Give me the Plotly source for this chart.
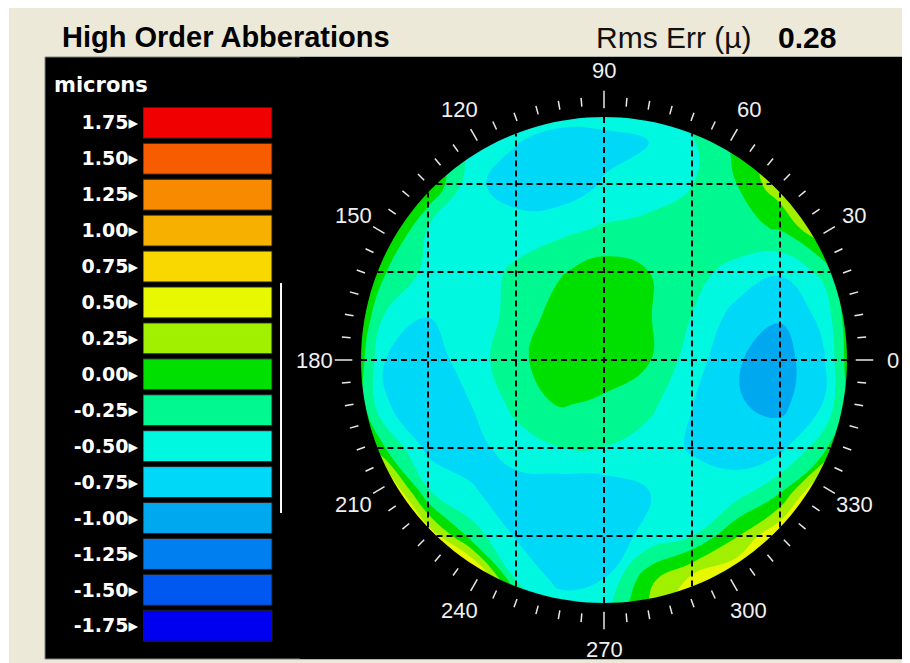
import math
import plotly.graph_objects as go

# ---------------- data ----------------
levels = [1.75, 1.50, 1.25, 1.00, 0.75, 0.50, 0.25, 0.00,
          -0.25, -0.50, -0.75, -1.00, -1.25, -1.50, -1.75]
level_labels = ["1.75", "1.50", "1.25", "1.00", "0.75", "0.50", "0.25", "0.00",
                "-0.25", "-0.50", "-0.75", "-1.00", "-1.25", "-1.50", "-1.75"]
level_colors = ["#F00000", "#F85C00", "#F88A00", "#F8B000", "#F8D800", "#E8F800",
                "#A0F000", "#00E000", "#00F890", "#00F8E0", "#00D8F8", "#00A8F0",
                "#0080F0", "#0058F0", "#0000F0"]
rms_err = "0.28"
data_range = [0.635, -0.965]          # white bar next to the legend (max, min)

# surface sampled on a grid (units: one dashed grid cell = 1)
grid_u = [-3, -2.5, -2, -1.5, -1, -0.5, 0, 0.5, 1, 1.5, 2, 2.5, 3]
grid_v = [3, 2.5, 2, 1.5, 1, 0.5, 0, -0.5, -1, -1.5, -2, -2.5, -3]
z_rows = [
    [0.6, 0.5, 0.2, -0.25, -0.3, -0.32, -0.3, -0.28, -0.15, 0.1, 0.4, 0.6, 0.7],
    [0.5, 0.4, 0.0, -0.4, -0.6, -0.74, -0.72, -0.64, -0.4, -0.05, 0.3, 0.5, 0.6],
    [0.4, 0.3, 0.15, -0.55, -0.78, -0.8, -0.6, -0.52, -0.38, -0.13, 0.3, 0.5, 0.6],
    [0.4, 0.3, -0.38, -0.55, -0.5, -0.45, -0.35, -0.3, -0.25, -0.2, -0.1, 0.4, 0.6],
    [0.5, -0.1, -0.45, -0.5, -0.33, -0.15, 0.0, -0.12, -0.3, -0.45, -0.6, -0.3, 0.5],
    [0.5, -0.38, -0.62, -0.5, -0.3, 0.0, 0.05, -0.1, -0.38, -0.72, -0.85, -0.55, 0.5],
    [0.5, -0.62, -0.75, -0.5, -0.2, 0.05, 0.05, -0.1, -0.5, -0.85, -1.0, -0.65, 0.5],
    [0.5, -0.6, -0.78, -0.62, -0.3, -0.1, -0.18, -0.3, -0.62, -0.85, -0.95, -0.62, 0.5],
    [0.6, -0.1, -0.7, -0.72, -0.5, -0.38, -0.38, -0.5, -0.65, -0.75, -0.7, -0.2, 0.6],
    [0.9, 0.9, -0.35, -0.6, -0.75, -0.8, -0.78, -0.63, -0.5, -0.5, -0.15, 0.8, 0.9],
    [1.0, 0.9, 0.6, -0.25, -0.65, -0.8, -0.78, -0.55, -0.38, 0.1, 0.65, 0.9, 1.0],
    [1.0, 0.9, 0.8, 1.0, -0.38, -0.7, -0.62, 0.05, 0.45, 0.65, 0.8, 0.9, 1.0],
    [1.0, 1.0, 0.9, 0.8, 0.3, -0.35, -0.45, 0.2, 0.7, 0.9, 1.0, 1.0, 1.0],
]
angle_labels = [0, 30, 60, 90, 120, 150, 180, 210, 240, 270, 300, 330]
tick_angles = list(range(0, 360, 5))
grid_lines = [-2, -1, 0, 1, 2]

# ---------------- geometry / style ----------------
OFF = 8                       # page body margin
W, H = 910 - OFF, 663 - OFF   # figure size
R = 2.761                     # pupil radius in grid units
R_LABEL = 3.285
BG = "#ECE9D8"


def px(x):
    return (x - OFF) / W


def py(y):
    return 1 - (y - OFF) / H


# colorscale so that each band centre gets its legend colour (range -2..2)
cs = [[0.0, level_colors[-1]]]
for v, c in sorted(zip(levels, level_colors)):
    cs.append([(v + 2) / 4, c])
cs.append([1.0, level_colors[0]])

fig = go.Figure()

fig.add_trace(go.Contour(
    x=grid_u, y=list(reversed(grid_v)), z=list(reversed(z_rows)),
    autocontour=False,
    contours=dict(start=-1.875, end=1.875, size=0.25, coloring="fill", showlines=False),
    line=dict(width=0, smoothing=1.3),
    colorscale=cs, showscale=False, hoverinfo="skip",
    xaxis="x", yaxis="y",
))

# dashed grid chords clipped to the pupil
gx, gy = [], []
for c in grid_lines:
    h = math.sqrt(R * R - c * c)
    gx += [c, c, None, -h, h, None]
    gy += [-h, h, None, c, c, None]
fig.add_trace(go.Scatter(x=gx, y=gy, mode="lines",
                         line=dict(color="black", width=2, dash="6px,4px"),
                         hoverinfo="skip", xaxis="x", yaxis="y"))

# legend swatches
fig.add_trace(go.Bar(
    y=levels, x=[1] * len(levels), base=0, orientation="h",
    width=0.25 * 31 / 36,
    marker=dict(color=level_colors, line=dict(color="#202020", width=1)),
    hoverinfo="skip", xaxis="x2", yaxis="y2",
))
fig.add_trace(go.Scatter(x=[1.07, 1.07], y=data_range, mode="lines",
                         line=dict(color="white", width=2),
                         hoverinfo="skip", xaxis="x2", yaxis="y2"))

shapes = [
    dict(type="rect", xref="paper", yref="paper", x0=px(9), x1=1.0, y0=0.0, y1=1.0,
         fillcolor=BG, line=dict(width=0), layer="below"),
    dict(type="rect", xref="paper", yref="paper", x0=px(45), x1=px(908), y0=py(659), y1=py(57),
         fillcolor="black", line=dict(color="#808080", width=1), layer="below"),
]

# mask outside the pupil
n = 180
circ = " ".join(("M" if i == 0 else "L") + f" {R*math.cos(2*math.pi*i/n):.4f},{R*math.sin(2*math.pi*i/n):.4f}"
                for i in range(n)) + " Z"
mask = f"M -4,-4 L 4,-4 L 4,4 L -4,4 Z {circ}"
shapes.append(dict(type="path", xref="x", yref="y", path=mask, fillcolor="black",
                   fillrule="evenodd", line=dict(width=0), layer="above"))

# angular ticks
for a in tick_angles:
    if a % 90 == 0:
        r0, r1 = 2.86, 3.06
    elif a % 30 == 0:
        r0, r1 = 2.88, 3.03
    else:
        r0, r1 = 2.89, 2.99
    t = math.radians(a)
    shapes.append(dict(type="line", xref="x", yref="y",
                       x0=r0 * math.cos(t), y0=r0 * math.sin(t),
                       x1=r1 * math.cos(t), y1=r1 * math.sin(t),
                       line=dict(color="#E8E8E8", width=1.5), layer="above"))

annotations = [
    dict(text="High Order Abberations", xref="paper", yref="paper", x=px(60), y=py(37),
         xanchor="left", yanchor="middle", showarrow=False,
         font=dict(family="Liberation Sans", size=29, color="black", weight="bold")),
    dict(text="Rms Err (µ)", xref="paper", yref="paper", x=px(674), y=py(37),
         xanchor="center", yanchor="middle", showarrow=False,
         font=dict(family="Liberation Sans", size=30, color="#111111")),
    dict(text=rms_err, xref="paper", yref="paper", x=px(807), y=py(37),
         xanchor="center", yanchor="middle", showarrow=False,
         font=dict(family="Liberation Sans", size=30, color="black", weight="bold")),
    dict(text="microns", xref="paper", yref="paper", x=px(52), y=py(85),
         xanchor="left", yanchor="middle", showarrow=False,
         font=dict(family="DejaVu Sans", size=21, color="white", weight="bold")),
]
for a in angle_labels:
    t = math.radians(a)
    annotations.append(dict(text=str(a), xref="x", yref="y",
                            x=R_LABEL * math.cos(t), y=R_LABEL * math.sin(t),
                            xanchor="center", yanchor="middle", showarrow=False,
                            font=dict(family="Liberation Sans", size=22, color="#F0F0F0")))

fig.update_layout(
    width=W, height=H, margin=dict(l=0, r=0, t=0, b=0),
    paper_bgcolor="white", plot_bgcolor="rgba(0,0,0,0)",
    showlegend=False, shapes=shapes, annotations=annotations,
    xaxis=dict(domain=[px(300), px(908)], range=[(300 - 604) / 88, (908 - 604) / 88],
               visible=False, anchor="y"),
    yaxis=dict(domain=[py(659), py(57)], range=[(360 - 659) / 88, (360 - 57) / 88],
               visible=False, anchor="x"),
    xaxis2=dict(domain=[px(143), px(290)], range=[0, 147 / 129], visible=False, anchor="y2"),
    yaxis2=dict(domain=[py(659), py(57)], range=[-1.75 - (659 - 625.8) / 143.7, 1.75 + (122.8 - 57) / 143.7],
                anchor="x2", tickvals=levels, ticktext=[l + "▸" for l in level_labels],
                ticks="", showgrid=False, zeroline=False, showline=False, ticklabelstandoff=4,
                tickfont=dict(family="DejaVu Sans", size=19, color="white", weight="bold")),
)

fig.write_html("out.html")
